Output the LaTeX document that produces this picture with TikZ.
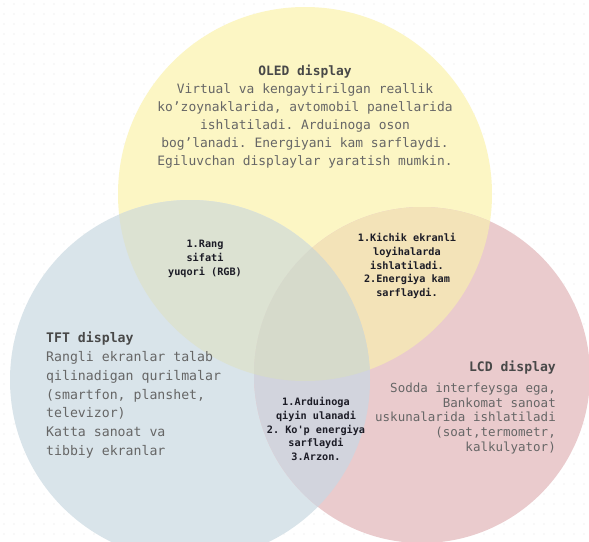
\documentclass[tikz,border=0pt]{standalone}
\usepackage{fontspec}
\setmonofont{DejaVu Sans Mono}
\usepackage{tikz}
\usetikzlibrary{positioning}

\definecolor{oledfill}{HTML}{FCF6C4}
\definecolor{tftfill}{HTML}{D9E4EA}
\definecolor{lcdfill}{HTML}{EACBCD}
\definecolor{oledtft}{HTML}{DCE2D2}
\definecolor{oledlcd}{HTML}{F3E3B8}
\definecolor{tftlcd}{HTML}{D2D4DD}
\definecolor{allthree}{HTML}{D6DACB}
\definecolor{dotgray}{HTML}{E4E4E4}
\definecolor{titlegray}{HTML}{484848}
\definecolor{bodygray}{HTML}{666666}
\definecolor{overlapink}{HTML}{1C1C26}

\newcommand{\oledcircle}{(305,194) circle (187pt)}
\newcommand{\tftcircle}{(190,380) circle (180pt)}
\newcommand{\lcdcircle}{(422,375) circle (168pt)}

\begin{document}
\begin{tikzpicture}[x=1pt,y=-1pt,
  bodytext/.style={font=\ttfamily\fontsize{13}{18.5}\selectfont,text=bodygray,inner sep=0pt},
  overlaptext/.style={font=\ttfamily\bfseries\fontsize{10.2}{13.8}\selectfont,text=overlapink,align=center,inner sep=0pt}]
\useasboundingbox (0,0) rectangle (589,541);
\fill[white] (0,0) rectangle (589,541);
% dotted background
\foreach \i in {4,14,...,584}
  \foreach \j in {4,14,...,534}
    \fill[dotgray] (\i,\j) circle (0.7pt);

% the three sets
\fill[oledfill] \oledcircle;
\fill[tftfill] \tftcircle;
\fill[lcdfill] \lcdcircle;
\begin{scope}
  \clip \tftcircle;
  \fill[oledtft] \oledcircle;
\end{scope}
\begin{scope}
  \clip \oledcircle;
  \fill[oledlcd] \lcdcircle;
\end{scope}
\begin{scope}
  \clip \tftcircle;
  \fill[tftlcd] \lcdcircle;
  \clip \oledcircle;
  \fill[allthree] \lcdcircle;
\end{scope}

% set texts
\node[bodytext,align=center,anchor=north,font=\ttfamily\fontsize{12.9}{18}\selectfont] (oled) at (305,65)
  {{\bfseries\color{titlegray}OLED display}\\
   Virtual va kengaytirilgan reallik\\
   ko’zoynaklarida, avtomobil panellarida\\
   ishlatiladi. Arduinoga oson\\
   bog’lanadi. Energiyani kam sarflaydi.\\
   Egiluvchan displaylar yaratish mumkin.};
\node[bodytext,align=left,anchor=north west,font=\ttfamily\fontsize{13.2}{18.7}\selectfont] (tft) at (46,332)
  {{\bfseries\color{titlegray}TFT display}\\
   Rangli ekranlar talab\\
   qilinadigan qurilmalar\\
   (smartfon, planshet,\\
   televizor)\\
   Katta sanoat va\\
   tibbiy ekranlar};
\node[bodytext,align=right,anchor=north east,font=\ttfamily\fontsize{12.5}{14.7}\selectfont] (lcd) at (556,361)
  {{\fontsize{13.1}{14.7}\selectfont\bfseries\color{titlegray}LCD display}\\[6pt]
   Sodda interfeysga ega,\\
   Bankomat sanoat\\
   uskunalarida ishlatiladi\\
   (soat,termometr,\\
   kalkulyator)};

% overlap texts
\node[overlaptext,anchor=north] (oledtft) at (205,240)
  {1.Rang\\ sifati\\ yuqori (RGB)};
\node[overlaptext,anchor=north] (oledlcd) at (407,233)
  {1.Kichik ekranli\\ loyihalarda\\ ishlatiladi.\\ 2.Energiya kam\\ sarflaydi.};
\node[overlaptext,anchor=north] (tftlcd) at (316,397)
  {1.Arduinoga\\ qiyin ulanadi\\ 2. Ko'p energiya\\ sarflaydi\\ 3.Arzon.};

\end{tikzpicture}
\end{document}
